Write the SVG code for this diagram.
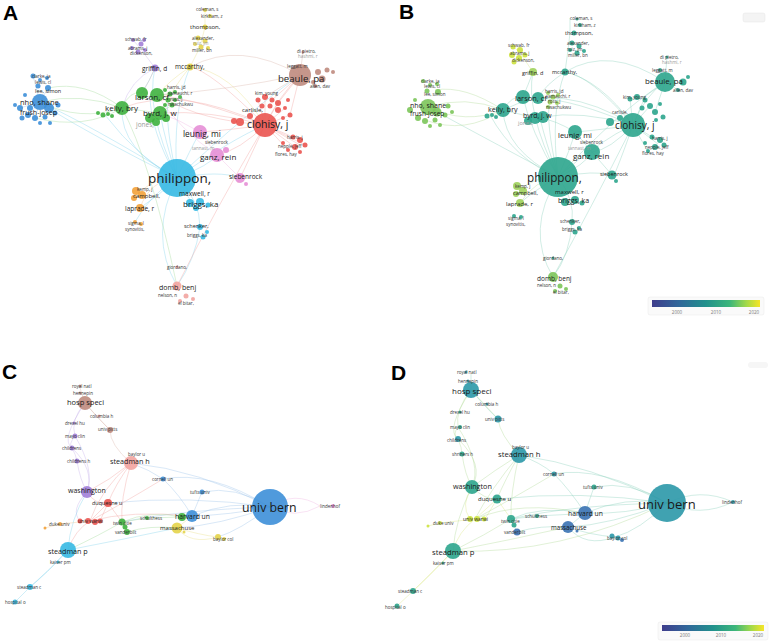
<svg xmlns="http://www.w3.org/2000/svg" width="771" height="642" viewBox="0 0 771 642">
<defs>
<linearGradient id="vir" x1="0" y1="0" x2="1" y2="0">
<stop offset="0" stop-color="#3f3d8c"/><stop offset="0.25" stop-color="#30679a"/><stop offset="0.5" stop-color="#21918c"/><stop offset="0.72" stop-color="#3cb67a"/><stop offset="0.87" stop-color="#a0d94a"/><stop offset="1" stop-color="#f6e527"/>
</linearGradient>
<style>
text{font-family:"Open Sans","Liberation Sans",Arial,sans-serif;fill:#1a1a1a;dominant-baseline:central}
.let{font-family:"Liberation Sans",Arial,sans-serif;font-weight:bold;font-size:21px;fill:#000;dominant-baseline:auto}
.tn{font-size:4.5px;fill:#333}
.gr{fill:#9a9a9a}
.tick{font-size:4.5px;fill:#777;text-anchor:middle}
.cn path{fill:none;stroke-width:0.8;opacity:0.5}
.k1{stroke:#86d4ee}.k2{stroke:#f3a6a3}.k3{stroke:#a6dc9e}.k4{stroke:#ece08c}.k5{stroke:#c8b3ea}.k6{stroke:#dcb8ae}.k7{stroke:#f0b9e3}.k8{stroke:#9fc5ec}.k9{stroke:#f5c58c}
.kt{stroke:#8fd3bd}.kg{stroke:#b5dd9c}.ky{stroke:#dbe98a}
circle{opacity:0.9}
.cy{fill:#36b9e3}.gn{fill:#3fb13f}.bl{fill:#3d8fd8}.rd{fill:#ea5450}.br{fill:#bf8b7e}.pk{fill:#e68fd6}.pu{fill:#a27fd8}.ye{fill:#e4d44a}.or{fill:#f3a23a}.sa{fill:#f2a4a0}
.te{fill:#2ca58d}.tg{fill:#7cc55a}.tl{fill:#9fd15c}.ty{fill:#cde23f}.tb{fill:#3a72b2}.tc{fill:#2b98a8}
</style>
</defs>
<rect width="771" height="642" fill="#ffffff"/>

<text class="let" x="3" y="20">A</text>
<text class="let" x="399" y="19">B</text>
<text class="let" x="2" y="379">C</text>
<text class="let" x="391" y="380">D</text>

<g id="connectors" class="cn">
<g id="conn-a">
<path class="k1" d="M177,178 Q120,150 122,108"/>
<path class="k1" d="M177,178 Q90,125 40,102"/>
<path class="k1" d="M177,178 Q100,140 48,108"/>
<path class="k1" d="M177,178 Q150,130 150,95"/>
<path class="k1" d="M177,178 Q165,140 160,113"/>
<path class="k1" d="M177,178 Q190,150 200,132"/>
<path class="k1" d="M177,178 Q210,165 217,155"/>
<path class="k1" d="M177,178 Q230,140 265,125"/>
<path class="k1" d="M177,178 Q250,110 300,75"/>
<path class="k1" d="M177,178 Q172,110 190,67"/>
<path class="k1" d="M177,178 Q145,110 155,68"/>
<path class="k1" d="M177,178 Q148,235 177,286"/>
<path class="k1" d="M177,178 Q200,200 200,227"/>
<path class="k1" d="M200,227 Q195,260 177,286"/>
<path class="k1" d="M177,178 Q160,195 140,208"/>
<path class="k1" d="M177,178 Q220,170 240,178"/>
<path class="k1" d="M177,178 Q140,160 105,115"/>
<path class="k1" d="M177,178 Q165,125 168,100"/>
<path class="k1" d="M177,178 Q185,192 192,203"/>
<path class="k1" d="M177,178 Q150,195 135,222"/>
<path class="k2" d="M265,125 Q200,100 157,95"/>
<path class="k2" d="M265,125 Q210,110 160,113"/>
<path class="k2" d="M265,125 Q180,85 122,108"/>
<path class="k2" d="M265,125 Q230,130 200,132"/>
<path class="k2" d="M265,125 Q240,150 217,155"/>
<path class="k2" d="M265,125 Q215,210 177,286"/>
<path class="k2" d="M265,125 Q280,95 300,75"/>
<path class="k2" d="M265,125 Q210,70 190,67"/>
<path class="k2" d="M265,125 Q200,120 168,100"/>
<path class="k2" d="M265,125 L293,137 M265,125 L300,145 M265,125 L288,150 M265,125 L305,145 M265,125 L295,147"/>
<path class="k2" d="M265,125 L278,103 M265,125 L265,97 M265,125 L258,100 M265,125 L285,108 M265,125 L290,115"/>
<path class="k2" d="M300,75 L278,103 M300,75 L290,115 M300,75 L272,100"/>
<path class="k2" d="M265,125 Q230,200 240,178"/>
<path class="k3" d="M122,108 Q80,92 40,102"/>
<path class="k3" d="M122,108 Q80,122 40,102"/>
<path class="k3" d="M122,108 Q85,80 48,88"/>
<path class="k3" d="M122,108 Q85,130 35,118"/>
<path class="k3" d="M122,108 Q130,90 142,93"/>
<path class="k3" d="M122,108 L160,113"/>
<path class="k3" d="M142,93 Q150,80 155,68"/>
<path class="k3" d="M157,95 L170,94 M157,95 L175,100 M160,113 L172,105"/>
<path class="k3" d="M122,108 Q150,160 177,286"/>
<path class="k4" d="M190,67 L200,47 L205,27 L205,10"/>
<path class="k4" d="M190,67 Q170,80 157,95"/>
<path class="k4" d="M190,67 Q175,85 160,113"/>
<path class="k4" d="M190,67 Q230,70 265,125"/>
<path class="k5" d="M155,68 L140,48 L133,40"/>
<path class="k5" d="M155,68 Q150,80 142,93"/>
<path class="k5" d="M155,68 Q130,80 122,108"/>
<path class="k6" d="M300,75 L303,52 M300,75 L297,67 M300,75 L315,86 M300,75 L265,97"/>
<path class="k6" d="M300,75 Q240,40 190,67"/>
<path class="k6" d="M300,75 Q230,90 157,95"/>
<path class="k7" d="M200,132 L217,155 L240,178"/>
<path class="k7" d="M200,132 Q180,120 160,113"/>
<path class="k7" d="M217,155 Q180,130 157,95"/>
<path class="k8" d="M40,102 L33,76 M40,102 L48,88 M40,102 L20,108 M40,102 L35,118 M40,102 L55,113 M40,102 L28,115"/>
<path class="k9" d="M140,208 Q150,180 177,178 M138,193 Q160,175 177,178"/>
</g>

<g id="conn-b">
<path class="kt" d="M558,177 Q505,150 503,110"/>
<path class="kt" d="M558,177 Q470,130 428,107"/>
<path class="kt" d="M558,177 Q530,130 523,97"/>
<path class="kt" d="M558,177 Q545,140 540,118"/>
<path class="kt" d="M558,177 Q570,150 575,132"/>
<path class="kt" d="M558,177 Q585,165 592,152"/>
<path class="kt" d="M558,177 Q600,140 633,125"/>
<path class="kt" d="M558,177 Q620,110 665,82"/>
<path class="kt" d="M558,177 Q550,110 565,72"/>
<path class="kt" d="M558,177 Q525,110 533,72"/>
<path class="kt" d="M558,177 Q525,230 553,277"/>
<path class="kt" d="M558,177 Q575,200 572,222"/>
<path class="kt" d="M572,222 Q570,255 553,277"/>
<path class="kt" d="M558,177 Q535,190 520,203"/>
<path class="kt" d="M558,177 Q595,170 612,175"/>
<path class="kt" d="M558,177 Q515,160 490,115"/>
<path class="kt" d="M558,177 Q545,120 550,100"/>
<path class="kt" d="M633,125 Q575,100 538,98"/>
<path class="kt" d="M633,125 Q580,110 543,117"/>
<path class="kt" d="M633,125 Q560,80 503,110"/>
<path class="kt" d="M633,125 Q600,130 575,132"/>
<path class="kt" d="M633,125 Q610,150 592,152"/>
<path class="kt" d="M633,125 Q590,210 553,277"/>
<path class="kt" d="M633,125 Q645,95 665,82"/>
<path class="kt" d="M633,125 Q590,75 565,72"/>
<path class="kt" d="M633,125 L652,137 M633,125 L658,144 M633,125 L647,150 M633,125 L645,97 M633,125 L630,99 M633,125 L650,106"/>
<path class="kt" d="M665,82 L667,57 M665,82 L660,70 M665,82 L678,90 M665,82 L640,100 M665,82 L655,112"/>
<path class="kt" d="M665,82 Q610,45 565,72"/>
<path class="kt" d="M633,125 Q610,190 612,175"/>
<path class="kg" d="M503,110 Q465,95 428,107"/>
<path class="kg" d="M503,110 Q465,125 428,107"/>
<path class="kg" d="M503,110 Q465,85 435,90"/>
<path class="kg" d="M503,110 Q465,135 425,120"/>
<path class="kt" d="M503,110 Q512,95 523,97"/>
<path class="kt" d="M503,110 L535,118"/>
<path class="kt" d="M565,72 L568,50 L570,33 L570,18"/>
<path class="kt" d="M565,72 Q545,85 538,98"/>
<path class="kt" d="M565,72 Q600,80 633,125"/>
<path class="ky" d="M533,72 L520,53 L513,46"/>
<path class="kt" d="M533,72 Q528,85 523,97"/>
<path class="kt" d="M575,132 L592,152 L612,175"/>
<path class="kt" d="M575,132 Q555,120 540,118"/>
<path class="kg" d="M520,203 Q535,180 558,177 M518,190 Q540,175 558,177"/>
</g>

<g id="conn-c">
<path class="k8" d="M270,507 Q230,500 192,516"/>
<path class="k8" d="M270,507 Q230,515 192,516"/>
<path class="k8" d="M270,507 Q235,485 202,492"/>
<path class="k8" d="M270,507 Q210,470 163,479"/>
<path class="k8" d="M270,507 Q220,525 177,528"/>
<path class="k8" d="M270,507 Q200,470 131,463"/>
<path class="k8" d="M270,507 Q190,495 108,503"/>
<path class="k8" d="M270,507 Q180,510 122,522"/>
<path class="k8" d="M270,507 Q240,530 218,537"/>
<path class="k7" d="M270,507 Q295,490 320,506"/>
<path class="k7" d="M270,507 Q295,520 320,506"/>
<path class="k6" d="M131,463 Q110,445 110,430 Q95,415 85,403"/>
<path class="k6" d="M85,403 Q100,420 110,430"/>
<path class="k6" d="M85,403 L80,388"/>
<path class="k2" d="M131,463 Q115,485 108,503"/>
<path class="k2" d="M131,463 Q100,490 90,521"/>
<path class="k2" d="M131,463 Q110,480 87,492"/>
<path class="k8" d="M131,463 Q150,470 163,479"/>
<path class="k2" d="M131,463 Q120,500 122,522"/>
<path class="k5" d="M85,403 Q70,420 75,436 Q68,445 72,448 Q76,455 77,461 Q80,480 87,492"/>
<path class="k5" d="M85,403 Q60,440 72,448"/>
<path class="k5" d="M72,448 Q95,470 87,492"/>
<path class="k5" d="M75,436 Q95,470 87,492"/>
<path class="k5" d="M87,492 Q70,510 80,521"/>
<path class="k2" d="M87,492 Q95,505 108,503"/>
<path class="k2" d="M108,503 L90,521 M108,503 L100,521 M108,503 L122,522"/>
<path class="k2" d="M90,521 Q75,530 68,550"/>
<path class="k2" d="M90,521 Q130,510 192,516"/>
<path class="k2" d="M90,521 Q120,505 163,479"/>
<path class="k9" d="M90,521 L60,524 L45,528"/>
<path class="k3" d="M122,522 L147,518 M122,522 L127,532 M122,522 Q150,510 182,517 M127,532 Q150,525 177,528 M147,518 L182,517"/>
<path class="k3" d="M122,522 Q100,535 68,550"/>
<path class="k4" d="M177,528 Q200,535 218,537 M177,528 Q190,545 218,537 M177,528 L192,516"/>
<path class="k1" d="M68,550 Q50,570 30,587 L15,602"/>
<path class="k1" d="M68,550 Q45,575 30,587"/>
<path class="k1" d="M68,550 Q70,520 87,492"/>
<path class="k1" d="M68,550 Q120,540 177,528"/>
<path class="k8" d="M192,516 L202,492 M192,516 Q180,495 163,479"/>
</g>

<g id="conn-d">
<path class="kt" d="M667,503 Q625,496 585,513"/>
<path class="kt" d="M667,503 Q625,515 585,513"/>
<path class="kt" d="M667,503 Q630,480 594,487"/>
<path class="kt" d="M667,503 Q600,465 554,474"/>
<path class="kt" d="M667,503 Q610,525 568,527"/>
<path class="kt" d="M667,503 Q590,465 519,455"/>
<path class="kt" d="M667,503 Q580,490 497,499"/>
<path class="kt" d="M667,503 Q570,505 511,519"/>
<path class="kt" d="M667,503 Q640,530 615,537"/>
<path class="kt" d="M667,503 Q700,487 733,502"/>
<path class="kt" d="M667,503 Q700,518 733,502"/>
<path class="kg" d="M519,455 Q500,435 498,419 Q485,405 471,390"/>
<path class="kt" d="M471,390 Q488,410 498,419"/>
<path class="kt" d="M471,390 L471,374"/>
<path class="kg" d="M519,455 Q505,480 497,499"/>
<path class="kg" d="M519,455 Q490,490 475,519"/>
<path class="kg" d="M519,455 Q495,470 472,487"/>
<path class="kt" d="M519,455 Q540,462 554,474"/>
<path class="kg" d="M519,455 Q510,495 511,519"/>
<path class="kg" d="M471,390 Q455,410 458,427 Q452,435 458,439 Q462,448 462,454 Q465,475 472,487"/>
<path class="kg" d="M471,390 Q445,430 458,439"/>
<path class="kg" d="M458,439 Q485,465 472,487"/>
<path class="kg" d="M458,427 Q482,465 472,487"/>
<path class="ky" d="M472,487 Q460,505 470,519"/>
<path class="kg" d="M472,487 Q485,500 497,499"/>
<path class="ky" d="M497,499 L475,519 M497,499 L485,519 M497,499 L511,519"/>
<path class="ky" d="M475,519 Q458,532 453,551"/>
<path class="kg" d="M475,519 Q520,500 585,513"/>
<path class="kg" d="M475,519 Q510,500 554,474"/>
<path class="ky" d="M475,519 L440,523 L428,526"/>
<path class="kt" d="M511,519 L537,516 M511,519 L517,532 M511,519 Q540,505 585,513 M517,532 Q540,525 568,527 M537,516 L575,514"/>
<path class="kg" d="M511,519 Q485,535 453,551"/>
<path class="kt" d="M568,527 Q590,535 615,537 M568,527 Q585,548 615,537 M568,527 L585,513"/>
<path class="ky" d="M453,551 Q432,572 413,591 L397,606"/>
<path class="ky" d="M453,551 Q428,578 413,591"/>
<path class="kg" d="M453,551 Q455,520 472,487"/>
<path class="kg" d="M453,551 Q510,540 568,527"/>
<path class="kg" d="M453,551 Q560,555 667,503"/>
<path class="kt" d="M585,513 L594,487 M585,513 Q570,490 554,474"/>
</g>
</g>

<g id="panel-a">
<g id="a-yellow">
<circle class="ye" cx="205" cy="10" r="2"/><circle class="ye" cx="210" cy="16" r="2"/><circle class="ye" cx="205" cy="27" r="2.5"/>
<circle class="ye" cx="198" cy="38" r="2.5"/><circle class="ye" cx="205" cy="41" r="2.5"/><circle class="ye" cx="195" cy="44" r="2"/><circle class="ye" cx="201" cy="47" r="2.5"/><circle class="ye" cx="208" cy="48" r="2"/>
<text class="tn" x="196" y="9">coleman, s</text><text class="tn" x="201" y="16">kirkham, z</text>
<text x="190" y="27" font-size="6">thompson,</text><text class="tn" x="192" y="38">alexander,</text><text class="tn gr" x="193" y="43">ruiz, jm</text><text class="tn" x="192" y="50">miller, bn</text>
</g>
<g id="a-mccarthy"><circle class="ye" cx="190" cy="67" r="3.5"/><text x="175" y="66" font-size="6.5">mccarthy,</text></g>
<g id="a-purple">
<circle class="pu" cx="133" cy="40" r="2"/><circle class="pu" cx="141" cy="44" r="2.5"/><circle class="pu" cx="132" cy="48" r="2"/><circle class="pu" cx="138" cy="52" r="2.5"/><circle class="pu" cx="145" cy="50" r="2"/><circle class="pu" cx="144" cy="40" r="2"/>
<text class="tn" x="125" y="39">schwab, fr</text><text class="tn" x="128" y="48">abrams, j</text><text class="tn" x="130" y="53">dickenson,</text>
</g>
<g id="a-griffin"><circle class="pu" cx="155" cy="68" r="3.5"/><text x="142" y="68" font-size="6.5">griffin, d</text></g>
<g id="a-blue">
<circle class="bl" cx="33" cy="76" r="2.5"/><circle class="bl" cx="40" cy="80" r="2"/><circle class="bl" cx="47" cy="78" r="2"/><circle class="bl" cx="38" cy="86" r="2.5"/><circle class="bl" cx="48" cy="88" r="3"/><circle class="bl" cx="25" cy="95" r="2"/>
<circle class="bl" cx="20" cy="108" r="3"/><circle class="bl" cx="15" cy="105" r="2"/><circle class="bl" cx="28" cy="115" r="3"/><circle class="bl" cx="35" cy="118" r="3"/><circle class="bl" cx="45" cy="117" r="2.5"/><circle class="bl" cx="55" cy="113" r="2.5"/>
<circle class="bl" cx="50" cy="123" r="2"/><circle class="bl" cx="40" cy="123" r="2"/><circle class="bl" cx="22" cy="118" r="2.5"/><circle class="bl" cx="58" cy="105" r="2.5"/><circle class="bl" cx="30" cy="108" r="3"/>
<circle class="bl" cx="40" cy="102" r="8"/><circle class="bl" cx="49" cy="108" r="5"/>
<text class="tn" x="32" y="76">clarke, ja</text><text class="tn" x="35" y="82">lewis, cl</text><text x="35" y="91" font-size="5.5">lee, simon</text>
<text x="20" y="102" font-size="7.5">nho, shane</text><text x="20" y="112" font-size="7">frush-josep</text>
</g>
<g id="a-green">
<circle class="gn" cx="103" cy="115" r="2.5"/><circle class="gn" cx="108" cy="114" r="2"/><circle class="gn" cx="112" cy="116" r="2"/><circle class="gn" cx="98" cy="113" r="2"/>
<circle class="gn" cx="122" cy="108" r="7"/>
<circle class="gn" cx="142" cy="93" r="6"/><circle class="gn" cx="157" cy="95" r="7"/>
<circle class="gn" cx="165" cy="90" r="2"/><circle class="gn" cx="170" cy="94" r="2.5"/><circle class="gn" cx="175" cy="92" r="2"/><circle class="gn" cx="168" cy="100" r="2.5"/><circle class="gn" cx="175" cy="100" r="2"/><circle class="gn" cx="180" cy="97" r="2"/><circle class="gn" cx="172" cy="105" r="2.5"/><circle class="gn" cx="165" cy="105" r="2"/>
<circle class="gn" cx="160" cy="113" r="7"/><circle class="gn" cx="150" cy="118" r="5"/><circle class="gn" cx="166" cy="118" r="4"/><circle class="gn" cx="156" cy="122" r="4"/>
<text class="tn" x="167" y="87">harris, jd</text><text class="tn" x="168" y="93">yamauchi, r</text><text class="tn" x="170" y="99">ross, j</text><text class="tn" x="168" y="104">nwachukwu</text>
<text x="105" y="107" font-size="8">kelly, bry</text><text x="135" y="96" font-size="8">larson, cf</text><text x="143" y="112" font-size="8">byrd, j. w</text><text x="136" y="124" font-size="6.5" class="gr">jones,</text>
</g>
<g id="a-pink">
<circle class="pk" cx="200" cy="132" r="7"/><circle class="pk" cx="217" cy="155" r="7"/><circle class="pk" cx="226" cy="150" r="3"/>
<circle class="pk" cx="240" cy="178" r="5"/><circle class="pk" cx="246" cy="184" r="2"/>
<text x="183" y="133" font-size="8.4">leunig, mi</text><text class="tn" x="205" y="142">siebenrock</text><text class="tn gr" x="192" y="148">tannast, m</text>
<text x="200" y="156" font-size="8">ganz, rein</text><text x="229" y="176" font-size="6.5">siebenrock</text>
</g>
<g id="a-red">
<circle class="rd" cx="240" cy="122" r="4"/><circle class="rd" cx="234" cy="121" r="3"/><circle class="rd" cx="250" cy="116" r="3"/>
<circle class="rd" cx="258" cy="100" r="2.5"/><circle class="rd" cx="265" cy="97" r="3"/><circle class="rd" cx="272" cy="100" r="2.5"/><circle class="rd" cx="278" cy="103" r="3"/><circle class="rd" cx="270" cy="106" r="2.5"/><circle class="rd" cx="278" cy="110" r="3"/><circle class="rd" cx="285" cy="108" r="2"/><circle class="rd" cx="262" cy="106" r="2.5"/><circle class="rd" cx="288" cy="100" r="2"/><circle class="rd" cx="290" cy="115" r="2.5"/><circle class="rd" cx="283" cy="118" r="2"/>
<circle class="rd" cx="293" cy="137" r="2.5"/><circle class="rd" cx="300" cy="140" r="3"/><circle class="rd" cx="305" cy="145" r="2.5"/><circle class="rd" cx="295" cy="147" r="3"/><circle class="rd" cx="288" cy="150" r="2"/><circle class="rd" cx="300" cy="152" r="2"/><circle class="rd" cx="283" cy="143" r="2"/>
<circle class="rd" cx="265" cy="125" r="12"/>
<text class="tn" x="255" y="93">kim, young</text><text x="242" y="110" font-size="6">carlisle,</text>
<text x="247" y="124" font-size="10.5">clohisy, j</text>
<text class="tn" x="287" y="137">harris, j</text><text class="tn" x="278" y="146">nepple, jeff</text><text class="tn" x="275" y="154">flores, hay</text>
</g>
<g id="a-brown">
<circle class="br" cx="303" cy="52" r="1.5"/><circle class="br" cx="297" cy="67" r="2"/><circle class="br" cx="315" cy="86" r="2"/>
<circle class="br" cx="318" cy="72" r="3"/><circle class="br" cx="322" cy="79" r="3.5"/><circle class="br" cx="327" cy="70" r="2.5"/><circle class="br" cx="333" cy="72" r="2"/><circle class="br" cx="313" cy="82" r="2"/>
<circle class="br" cx="300" cy="75" r="11"/>
<text class="tn" x="297" y="51">di pietro,</text><text class="tn gr" x="298" y="56">hashmi, r</text><text class="tn" x="287" y="66">leggatt, m</text><text class="tn" x="310" y="86">allen, dav</text>
<text x="278" y="78" font-size="9.6">beaule, pa</text>
</g>
<g id="a-philippon">
<circle class="cy" cx="177" cy="178" r="19"/>
<text x="148" y="178" font-size="13.5">philippon,</text>
</g>
<g id="a-cyan">
<circle class="cy" cx="190" cy="203" r="4"/><circle class="cy" cx="200" cy="202" r="4"/><circle class="cy" cx="196" cy="208" r="3"/><circle class="cy" cx="208" cy="205" r="2.5"/>
<circle class="cy" cx="200" cy="227" r="3"/><circle class="cy" cx="203" cy="237" r="2.5"/><circle class="cy" cx="207" cy="232" r="2"/>
<text x="179" y="193" font-size="6.5">maxwell, r</text><text x="183" y="203" font-size="8">briggs, ka</text>
<text x="184" y="226" font-size="5.5">schenker,</text><text class="tn" x="187" y="235">briggs, ka</text>
</g>
<g id="a-orange">
<circle class="or" cx="136" cy="191" r="4"/><circle class="or" cx="142" cy="195" r="4"/><circle class="or" cx="134" cy="198" r="3"/><circle class="or" cx="140" cy="208" r="4"/><circle class="or" cx="135" cy="222" r="2"/><circle class="or" cx="141" cy="224" r="2"/>
<text class="tn" x="137" y="189">kemp, j</text><text x="133" y="196" font-size="6">campbell,</text><text x="125" y="208" font-size="6.5">laprade, r</text><text class="tn" x="128" y="223">sigma, l</text><text class="tn" x="125" y="229">synovitis,</text>
</g>
<g id="a-domb">
<circle class="sa" cx="177" cy="286" r="4.5"/><circle class="sa" cx="186" cy="296" r="2.5"/><circle class="sa" cx="193" cy="299" r="2"/><circle class="sa" cx="180" cy="301" r="2"/><circle class="sa" cx="177" cy="267" r="1.5"/>
<text class="tn" x="167" y="267">giordano,</text><text x="159" y="287" font-size="7">domb, benj</text><text class="tn" x="158" y="295">nelson, n</text><text class="tn" x="178" y="303">el bitar,</text>
</g>
</g>

<g id="panel-b">
<rect x="743" y="13" width="22" height="9" rx="2" fill="#f4f4f4" stroke="#e6e6e6" stroke-width="0.5"/>
<g id="b-top">
<circle class="te" cx="577" cy="19" r="1.5"/><circle class="te" cx="580" cy="25" r="2"/><circle class="te" cx="574" cy="33" r="2.5"/>
<circle class="te" cx="572" cy="43" r="2.5"/><circle class="te" cx="579" cy="46" r="2.5"/><circle class="te" cx="570" cy="50" r="2"/><circle class="te" cx="577" cy="53" r="2.5"/><circle class="te" cx="584" cy="51" r="2"/>
<circle class="te" cx="565" cy="72" r="3.5"/>
<text class="tn" x="570" y="18">coleman, s</text><text class="tn" x="574" y="25">kirkham, z</text><text x="565" y="33" font-size="5.5">thompson,</text>
<text class="tn" x="567" y="43">alexander,</text><text class="tn" x="567" y="49">ruiz, jm</text><text class="tn" x="568" y="55">miller, bn</text>
<text x="552" y="72" font-size="5.5">mccarthy,</text>
</g>
<g id="b-yellow">
<circle class="ty" cx="513" cy="47" r="2.5"/><circle class="ty" cx="520" cy="50" r="3"/><circle class="ty" cx="512" cy="55" r="3"/><circle class="ty" cx="519" cy="58" r="3"/><circle class="ty" cx="525" cy="55" r="2.5"/><circle class="ty" cx="514" cy="62" r="2.5"/>
<circle class="tl" cx="533" cy="72" r="4"/>
<text class="tn" x="508" y="45">schwab, fr</text><text class="tn" x="510" y="53">abrams, j</text><text class="tn" x="512" y="60">dickenson,</text>
<text x="522" y="73" font-size="5.5">griffin, d</text>
</g>
<g id="b-nho">
<circle class="tg" cx="423" cy="81" r="2"/><circle class="tg" cx="430" cy="85" r="2"/><circle class="tg" cx="437" cy="84" r="2"/><circle class="tg" cx="427" cy="91" r="2.5"/><circle class="tg" cx="438" cy="92" r="3"/>
<circle class="tg" cx="410" cy="110" r="3"/><circle class="tg" cx="418" cy="118" r="3"/><circle class="tg" cx="425" cy="121" r="3"/><circle class="tg" cx="435" cy="120" r="2.5"/><circle class="tg" cx="445" cy="115" r="2.5"/><circle class="tg" cx="440" cy="125" r="2"/><circle class="tg" cx="430" cy="126" r="2"/><circle class="tg" cx="448" cy="106" r="2.5"/><circle class="tg" cx="452" cy="112" r="2"/><circle class="tg" cx="415" cy="100" r="2"/>
<circle class="tg" cx="428" cy="107" r="8"/><circle class="tg" cx="437" cy="112" r="4.5"/>
<text class="tn" x="421" y="81">clarke, ja</text><text class="tn" x="424" y="86">lewis, cl</text><text class="tn" x="424" y="94">lee, simon</text>
<text x="410" y="105" font-size="7">nho, shane</text><text x="410" y="113" font-size="6.5">frush-josep</text>
</g>
<g id="b-mid">
<circle class="te" cx="487" cy="116" r="2.5"/><circle class="te" cx="492" cy="115" r="2"/><circle class="te" cx="496" cy="117" r="2"/>
<circle class="te" cx="503" cy="110" r="7"/>
<circle class="te" cx="523" cy="97" r="7"/><circle class="te" cx="538" cy="98" r="6"/>
<circle class="tl" cx="548" cy="93" r="2"/><circle class="tl" cx="553" cy="97" r="2.5"/><circle class="tl" cx="558" cy="95" r="2"/><circle class="tl" cx="550" cy="102" r="2.5"/><circle class="tl" cx="557" cy="103" r="2"/><circle class="tl" cx="548" cy="107" r="2"/>
<circle class="te" cx="535" cy="118" r="6"/><circle class="te" cx="543" cy="117" r="6"/><circle class="te" cx="528" cy="121" r="4"/>
<text class="tn" x="545" y="91">harris, jd</text><text class="tn" x="546" y="96">yamauchi, r</text><text class="tn" x="548" y="101">ross, j</text><text class="tn" x="546" y="107">nwachukwu</text>
<text x="488" y="109" font-size="7.2">kelly, bry</text><text x="515" y="98" font-size="7.5">larson, cf</text><text x="523" y="115" font-size="6.8">byrd, j. w</text><text x="518" y="123" font-size="5.5" class="gr">jones,</text>
<circle class="te" cx="575" cy="132" r="7"/><circle class="te" cx="592" cy="152" r="8"/>
<text x="558" y="135" font-size="7.5">leunig, mi</text><text class="tn" x="580" y="142">siebenrock</text><text class="tn gr" x="568" y="148">tannast, m</text><text x="573" y="155" font-size="8">ganz, rein</text>
</g>
<g id="b-right">
<circle class="te" cx="610" cy="122" r="4"/><circle class="te" cx="620" cy="118" r="3"/>
<circle class="te" cx="630" cy="99" r="2.5"/><circle class="te" cx="637" cy="97" r="3"/><circle class="te" cx="645" cy="100" r="2.5"/><circle class="te" cx="650" cy="106" r="3"/><circle class="te" cx="642" cy="108" r="2.5"/><circle class="te" cx="655" cy="112" r="3"/><circle class="te" cx="660" cy="104" r="2"/><circle class="te" cx="663" cy="117" r="2.5"/><circle class="te" cx="656" cy="120" r="2"/>
<circle class="te" cx="652" cy="137" r="2.5"/><circle class="te" cx="660" cy="140" r="3"/><circle class="te" cx="664" cy="145" r="2.5"/><circle class="te" cx="655" cy="147" r="3"/><circle class="te" cx="648" cy="151" r="2"/><circle class="te" cx="645" cy="143" r="2"/>
<circle class="te" cx="633" cy="125" r="12"/>
<text class="tn" x="623" y="97">kim, young</text><text class="tn" x="612" y="112">carlisle,</text>
<text x="615" y="125" font-size="10">clohisy, j</text>
<text class="tn" x="652" y="138">harris, j</text><text class="tn" x="645" y="147">nepple, jeff</text><text class="tn" x="642" y="153">flores, hay</text>
<circle class="te" cx="667" cy="57" r="1.5"/><circle class="te" cx="660" cy="70" r="2"/><circle class="te" cx="678" cy="90" r="2"/>
<circle class="te" cx="683" cy="82" r="3.5"/><circle class="te" cx="688" cy="77" r="2"/>
<circle class="te" cx="665" cy="82" r="10"/>
<text class="tn" x="660" y="57">di pietro,</text><text class="tn gr" x="662" y="62">hashmi, r</text><text class="tn" x="652" y="70">leggatt, m</text><text class="tn" x="673" y="90">allen, dav</text>
<text x="645" y="81" font-size="7.8">beaule, pa</text>
</g>
<g id="b-philippon">
<circle class="te" cx="558" cy="177" r="20"/>
<text x="527" y="177" font-size="11.7">philippon,</text>
</g>
<g id="b-low">
<circle class="te" cx="612" cy="175" r="4.5"/><circle class="te" cx="616" cy="181" r="2"/>
<text x="600" y="174" font-size="5.5">siebenrock</text>
<circle class="te" cx="565" cy="202" r="4"/><circle class="te" cx="575" cy="200" r="4"/><circle class="te" cx="582" cy="203" r="2.5"/>
<text x="555" y="192" font-size="6">maxwell, r</text><text x="558" y="200" font-size="7">briggs, ka</text>
<circle class="te" cx="572" cy="222" r="3"/><circle class="te" cx="575" cy="232" r="2.5"/><circle class="te" cx="579" cy="228" r="2"/>
<text class="tn" x="560" y="221">schenker,</text><text class="tn" x="562" y="229">briggs, ka</text>
<circle class="tl" cx="517" cy="186" r="4"/><circle class="tl" cx="523" cy="191" r="4"/><circle class="tl" cx="516" cy="194" r="3"/><circle class="tl" cx="520" cy="203" r="4"/><circle class="te" cx="514" cy="216" r="2"/><circle class="te" cx="521" cy="217" r="2"/>
<text class="tn" x="515" y="186">kemp, j</text><text x="513" y="193" font-size="5.5">campbell,</text><text x="506" y="204" font-size="6">laprade, r</text><text class="tn" x="508" y="218">sigma, l</text><text class="tn" x="506" y="224">synovitis,</text>
<circle class="tg" cx="553" cy="277" r="5"/><circle class="tg" cx="560" cy="286" r="2.5"/><circle class="tg" cx="566" cy="289" r="2"/><circle class="tg" cx="555" cy="291" r="2"/><circle class="te" cx="553" cy="258" r="1.5"/>
<text class="tn" x="543" y="258">giordano,</text><text x="537" y="278" font-size="6.5">domb, benj</text><text class="tn" x="537" y="285">nelson, n</text><text class="tn" x="553" y="292">el bitar,</text>
</g>
<g id="b-legend">
<rect x="648" y="297" width="116" height="18" rx="2" fill="#fafafa" stroke="#e8e8e8" stroke-width="0.5"/>
<rect x="652" y="300" width="108" height="7" fill="url(#vir)"/>
<text class="tick" x="677" y="312">2000</text><text class="tick" x="716" y="312">2010</text><text class="tick" x="754" y="312">2020</text>
</g>
</g>

<g id="panel-c">
<g id="c-hosp">
<circle class="br" cx="80" cy="386" r="1.5"/><circle class="br" cx="80" cy="393" r="1.5"/>
<circle class="br" cx="85" cy="403" r="7"/>
<text class="tn" x="72" y="386">royal natl</text><text class="tn" x="73" y="393">hennepin</text>
<text x="67" y="402" font-size="7.5">hosp speci</text>
</g>
<g id="c-pitts">
<circle class="sa" cx="99" cy="416" r="1.5"/><circle class="br" cx="110" cy="430" r="3"/>
<text class="tn" x="90" y="416">columbia h</text><text class="tn" x="98" y="429">univ pitts</text>
</g>
<g id="c-purple">
<circle class="pu" cx="74" cy="423" r="1.5"/><circle class="pu" cx="75" cy="436" r="2.5"/><circle class="pu" cx="72" cy="448" r="2.5"/><circle class="pu" cx="77" cy="461" r="2.5"/>
<text class="tn" x="65" y="423">drexel hu</text><text class="tn" x="65" y="436">mayo clin</text><text class="tn" x="62" y="448">childrens</text><text class="tn" x="67" y="461">childrens h</text>
</g>
<g id="c-steadman-h">
<circle class="sa" cx="131" cy="463" r="7"/>
<text class="tn" x="128" y="454">baylor u</text>
<text x="110" y="461" font-size="7.2">steadman h</text>
</g>
<g id="c-cornell"><circle class="bl" cx="163" cy="479" r="2.5"/><text class="tn" x="152" y="479">cornell un</text></g>
<g id="c-washington"><circle class="pu" cx="87" cy="492" r="6"/><text x="68" y="490" font-size="7">washington</text></g>
<g id="c-duquesne"><circle class="rd" cx="108" cy="503" r="4"/><text x="92" y="503" font-size="5.5">duquesne u</text></g>
<g id="c-tufts"><circle class="bl" cx="202" cy="492" r="2.5"/><text class="tn" x="190" y="492">tufts univ</text></g>
<g id="c-bern"><circle class="bl" cx="270" cy="507" r="18"/><text x="242" y="507" font-size="12.3">univ bern</text></g>
<g id="c-lindenhof"><circle class="pk" cx="333" cy="506" r="2"/><text class="tn" x="320" y="506">lindenhof</text></g>
<g id="c-red">
<circle class="rd" cx="80" cy="521" r="2.5"/><circle class="rd" cx="88" cy="521" r="3"/><circle class="rd" cx="95" cy="522" r="3"/><circle class="rd" cx="100" cy="521" r="2.5"/>
<text x="78" y="521" font-size="5">univ warwi</text>
</g>
<g id="c-duke"><circle class="or" cx="60" cy="524" r="2"/><circle class="or" cx="45" cy="528" r="1.5"/><text class="tn" x="49" y="524">duke univ</text></g>
<g id="c-green">
<circle class="gn" cx="122" cy="522" r="3.5"/><circle class="gn" cx="125" cy="527" r="2.5"/><circle class="gn" cx="147" cy="518" r="2"/><circle class="gn" cx="127" cy="532" r="3"/>
<text class="tn" x="113" y="523">twin citie</text><text class="tn" x="140" y="518">schulthess</text><text class="tn" x="115" y="532">vanderbilt</text>
</g>
<g id="c-harvard"><circle class="gn" cx="182" cy="517" r="4"/><circle class="bl" cx="192" cy="516" r="6"/><text x="175" y="516" font-size="6.8">harvard un</text></g>
<g id="c-mass"><circle class="ye" cx="177" cy="528" r="5.5"/><circle class="ye" cx="184" cy="532" r="1.5"/><text x="160" y="528" font-size="6">massachuse</text></g>
<g id="c-baylor"><circle class="ye" cx="218" cy="537" r="3"/><circle class="ye" cx="224" cy="539" r="2"/><text class="tn" x="213" y="539">baylor col</text></g>
<g id="c-steadman-p"><circle class="cy" cx="68" cy="550" r="8"/><circle class="cy" cx="58" cy="562" r="1.5"/><text x="48" y="551" font-size="7.2">steadman p</text><text class="tn" x="50" y="562">kaiser pm</text></g>
<g id="c-steadman-c"><circle class="cy" cx="30" cy="587" r="3"/><text class="tn" x="17" y="587">steadman c</text></g>
<g id="c-hosp-o"><circle class="cy" cx="15" cy="602" r="2.5"/><text class="tn" x="5" y="602">hospital o</text></g>
</g>

<g id="panel-d">
<rect x="748" y="362" width="20" height="6" rx="3" fill="#f6f6f6"/>
<g id="d-hosp">
<circle class="tc" cx="466" cy="372" r="1.5"/><circle class="tc" cx="468" cy="381" r="1.5"/>
<circle class="tc" cx="471" cy="390" r="8"/>
<text class="tn" x="457" y="372">royal natl</text><text class="tn" x="458" y="381">hennepin</text>
<text x="452" y="390" font-size="8">hosp speci</text>
</g>
<g id="d-pitts">
<circle class="tc" cx="487" cy="404" r="1.5"/><circle class="tc" cx="498" cy="419" r="3.5"/>
<text class="tn" x="475" y="404">columbia h</text><text class="tn" x="485" y="419">univ pitts</text>
</g>
<g id="d-left">
<circle class="te" cx="460" cy="412" r="1.5"/><circle class="te" cx="460" cy="427" r="2"/><circle class="tc" cx="458" cy="439" r="3"/><circle class="te" cx="462" cy="454" r="2.5"/>
<text class="tn" x="450" y="412">drexel hu</text><text class="tn" x="450" y="427">mayo clin</text><text class="tn" x="447" y="440">childrens</text><text class="tn" x="452" y="454">shriners h</text>
</g>
<g id="d-steadman-h">
<circle class="tc" cx="519" cy="455" r="8"/>
<text class="tn" x="512" y="447">baylor u</text>
<text x="498" y="454" font-size="7.7">steadman h</text>
</g>
<g id="d-cornell"><circle class="tc" cx="554" cy="474" r="2.5"/><text class="tn" x="543" y="474">cornell un</text></g>
<g id="d-washington"><circle class="te" cx="472" cy="487" r="7"/><text x="453" y="486" font-size="7.2">washington</text></g>
<g id="d-duquesne"><circle class="te" cx="497" cy="499" r="4.5"/><text x="478" y="499" font-size="6">duquesne u</text></g>
<g id="d-tufts"><circle class="te" cx="594" cy="487" r="2.5"/><text class="tn" x="583" y="487">tufts univ</text></g>
<g id="d-bern"><circle class="tc" cx="667" cy="503" r="19"/><text x="638" y="504" font-size="13">univ bern</text></g>
<g id="d-lindenhof"><circle class="tc" cx="733" cy="502" r="2"/><text class="tn" x="722" y="502">lindenhof</text></g>
<g id="d-warwi">
<circle class="ty" cx="470" cy="519" r="3"/><circle class="ty" cx="477" cy="519" r="3"/><circle class="ty" cx="484" cy="519" r="2.5"/>
<text x="463" y="519" font-size="5">univ warwi</text>
</g>
<g id="d-duke"><circle class="ty" cx="440" cy="523" r="2"/><circle class="ty" cx="428" cy="526" r="1.5"/><text class="tn" x="433" y="523">duke univ</text></g>
<g id="d-mid">
<circle class="te" cx="511" cy="519" r="4"/><circle class="te" cx="514" cy="525" r="2.5"/><circle class="te" cx="537" cy="516" r="2"/><circle class="tb" cx="517" cy="532" r="3.5"/>
<text class="tn" x="501" y="521">twin citie</text><text class="tn" x="525" y="516">schulthess</text><text class="tn" x="504" y="532">vanderbilt</text>
</g>
<g id="d-harvard"><circle class="tb" cx="585" cy="513" r="7"/><text x="568" y="513" font-size="6.8">harvard un</text></g>
<g id="d-mass"><circle class="tb" cx="568" cy="527" r="6"/><circle class="tb" cx="577" cy="531" r="1.5"/><text x="551" y="527" font-size="6.2">massachuse</text></g>
<g id="d-baylor"><circle class="tc" cx="612" cy="536" r="2.5"/><circle class="tc" cx="618" cy="538" r="2.5"/><circle class="tb" cx="622" cy="540" r="2"/><text class="tn" x="607" y="538">baylor col</text></g>
<g id="d-steadman-p"><circle class="te" cx="453" cy="551" r="8"/><circle class="te" cx="443" cy="563" r="1.5"/><text x="432" y="552" font-size="7.7">steadman p</text><text class="tn" x="433" y="563">kaiser pm</text></g>
<g id="d-steadman-c"><circle class="te" cx="413" cy="591" r="3"/><text class="tn" x="398" y="591">steadman c</text></g>
<g id="d-hosp-o"><circle class="te" cx="397" cy="606" r="2.5"/><text class="tn" x="385" y="607">hospital o</text></g>
<g id="d-legend">
<rect x="658" y="622" width="110" height="18" rx="2" fill="#fafafa" stroke="#e8e8e8" stroke-width="0.5"/>
<rect x="662" y="625" width="102" height="6" fill="url(#vir)"/>
<text class="tick" x="685" y="635">2000</text><text class="tick" x="721" y="635">2010</text><text class="tick" x="758" y="635">2020</text>
</g>
</g>
</svg>
